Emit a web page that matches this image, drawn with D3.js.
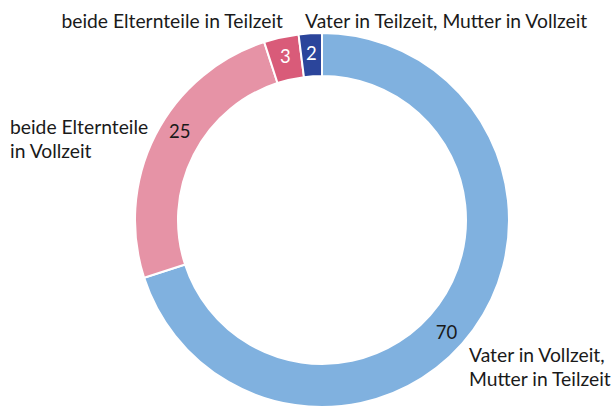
<!DOCTYPE html>
<html>
<head>
<meta charset="utf-8">
<script src="https://cdn.jsdelivr.net/npm/d3@7"></script>
<style>
  body { margin: 0; background: #fff; }
  svg text { font-family: "Lato", "Noto Sans", sans-serif; fill: #1a1a1a; }
</style>
</head>
<body>
<svg id="chart" width="613" height="407"></svg>
<script>
// Erwerbskonstellation der Eltern, Anteile in Prozent
const categories = [
    "Vater in Vollzeit, Mutter in Teilzeit",
    "beide Elternteile in Vollzeit",
    "beide Elternteile in Teilzeit",
    "Vater in Teilzeit, Mutter in Vollzeit"
];
const values = [70, 25, 3, 2];
const colors = ["#80b1df", "#e693a6", "#d95b79", "#2b459b"];
const valueColors = ["#1a1a1a", "#1a1a1a", "#ffffff", "#ffffff"];

// category labels, split on lines
const labelLines = [
    ["Vater in Vollzeit,", "Mutter in Teilzeit"],
    ["beide Elternteile", "in Vollzeit"],
    ["beide Elternteile in Teilzeit"],
    ["Vater in Teilzeit, Mutter in Vollzeit"]
];

const width = 613, height = 407;
const cx = 322, cy = 220;
const outerR = 187, innerR = 144;

const svg = d3.select("#chart");
const g = svg.append("g").attr("transform", "translate(" + cx + "," + cy + ")");

const data = categories.map((c, i) => ({name: c, value: values[i], i: i}));

const pie = d3.pie().sort(null).value(d => d.value);
const arc = d3.arc().innerRadius(innerR).outerRadius(outerR);
const arcs = pie(data);

g.selectAll("path.slice")
    .data(arcs)
    .enter().append("path")
    .attr("class", "slice")
    .attr("d", arc)
    .attr("fill", d => colors[d.data.i])
    .attr("stroke", "#fff")
    .attr("stroke-width", 2);

// value labels sit in the ring; the two big ones are pushed a bit further round
const nudge = {0: 0.105, 1: 0.085};
g.selectAll("text.val")
    .data(arcs)
    .enter().append("text")
    .attr("class", "val")
    .attr("transform", d => {
        let a = (d.startAngle + d.endAngle) / 2 + (nudge[d.data.i] || 0);
        let r = (innerR + outerR) / 2 + 2;
        return "translate(" + (Math.sin(a) * r) + "," + (-Math.cos(a) * r) + ")";
    })
    .attr("text-anchor", "middle")
    .attr("dy", "0.36em")
    .style("font-size", "18.5px")
    .style("fill", d => valueColors[d.data.i])
    .text(d => d.data.value);

// category labels, placed outside the ring
const labelPos = [
    {x: 469, y: 362, anchor: "start"},
    {x: 10, y: 134, anchor: "start"},
    {x: 283, y: 28, anchor: "end"},
    {x: 305, y: 28, anchor: "start"}
];
labelLines.forEach((lines, i) => {
    const t = svg.append("text")
        .attr("x", labelPos[i].x)
        .attr("y", labelPos[i].y)
        .attr("text-anchor", labelPos[i].anchor)
        .style("font-size", "19.3px");
    lines.forEach((l, k) => {
        t.append("tspan")
            .attr("x", labelPos[i].x)
            .attr("dy", k === 0 ? 0 : 24)
            .text(l);
    });
});
</script>
</body>
</html>
